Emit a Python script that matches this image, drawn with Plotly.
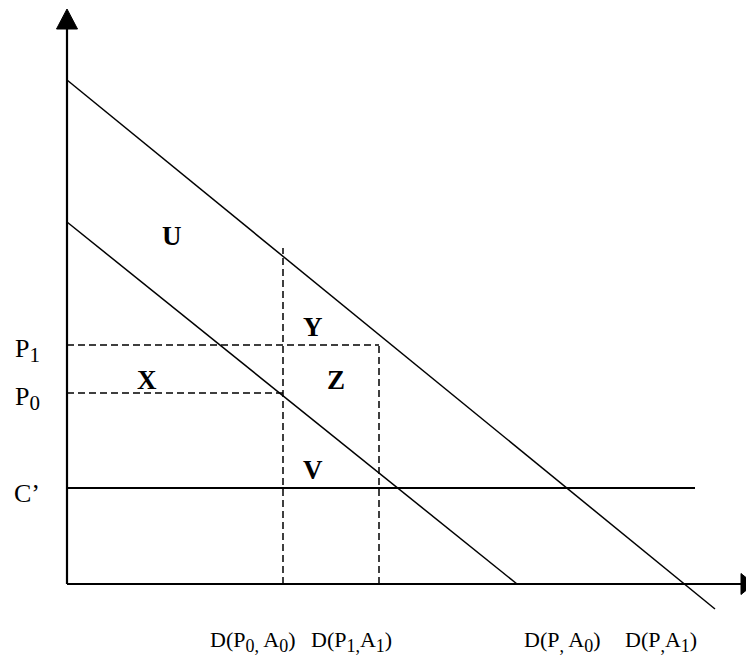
import plotly.graph_objects as go

# ---- data (quantity q to the right, price p upward, origin at the axes' corner) ----
demand_A1_q = [0, 648]
demand_A1_p = [504, -25]
demand_A0_q = [0, 450]
demand_A0_p = [362, 0]
cost_q = [0, 628]
cost_p = [96, 96]
P1 = 239
P0 = 191
q_P0A0 = 216
q_P1A1 = 312
vert_top = 336
axis_q_max = 687
axis_p_max = 575

region_labels = ["U", "Y", "X", "Z", "V"]
region_q = [105, 246, 80, 269, 246]
region_p = [348, 257, 204, 204, 114]

price_labels = ["P{0}".format('<sub><span style="font-size:21px">1</span></sub>'),
                "P{0}".format('<sub><span style="font-size:21px">0</span></sub>'),
                "C’"]
price_values = [P1, P0, 96]

S = '<sub><span style="font-size:18px">{}</span></sub>'
qty_labels = ["D(P" + S.format("0,") + " A" + S.format("0") + ")",
              "D(P" + S.format("1,") + "A" + S.format("1") + ")",
              "D(P" + S.format(",") + " A" + S.format("0") + ")",
              "D(P" + S.format(",") + "A" + S.format("1") + ")"]
qty_q = [185, 284, 495, 594]

FONT = "Liberation Serif, Times New Roman, serif"
BLACK = "black"

fig = go.Figure()

def line(xs, ys, width=1.5, dash="solid"):
    fig.add_trace(go.Scatter(x=xs, y=ys, mode="lines",
                             line=dict(color=BLACK, width=width, dash=dash),
                             hoverinfo="skip", showlegend=False))

# axes
line([0, 0], [0, axis_p_max - 18], width=2.2)
line([0, axis_q_max - 12], [0, 0], width=2.2)
# arrowheads
fig.add_trace(go.Scatter(x=[0, -10.5, 10.5, 0], y=[axis_p_max, axis_p_max - 20, axis_p_max - 20, axis_p_max],
                         fill="toself", fillcolor=BLACK, mode="lines", line=dict(color=BLACK, width=1),
                         hoverinfo="skip", showlegend=False))
fig.add_trace(go.Scatter(x=[axis_q_max, axis_q_max - 13, axis_q_max - 13, axis_q_max], y=[0, 10.5, -10.5, 0],
                         fill="toself", fillcolor=BLACK, mode="lines", line=dict(color=BLACK, width=1),
                         hoverinfo="skip", showlegend=False))

# demand curves and cost line
line(demand_A1_q, demand_A1_p)
line(demand_A0_q, demand_A0_p)
line(cost_q, cost_p, width=1.8)

# dashed guides
dash = "7px,4px"
line([0, q_P1A1], [P1, P1], dash=dash)
line([0, q_P0A0], [P0, P0], dash=dash)
line([q_P0A0, q_P0A0], [0, vert_top], dash=dash)
line([q_P1A1, q_P1A1], [0, P1], dash=dash)

ann = []
for t, q, p in zip(region_labels, region_q, region_p):
    ann.append(dict(x=q, y=p, text=f"<b>{t}</b>", showarrow=False,
                    font=dict(family=FONT, size=27, color=BLACK)))
for t, p in zip(price_labels, price_values):
    ann.append(dict(x=-40, y=p - 5, text=t, showarrow=False,
                    font=dict(family=FONT, size=26, color=BLACK)))
for t, q in zip(qty_labels, qty_q):
    ann.append(dict(x=q, y=-57, text=t, showarrow=False,
                    font=dict(family=FONT, size=22, color=BLACK)))

# The page body has an 8px margin, so the figure is 8px smaller and the ranges start 8px in.
fig.update_layout(
    width=746, height=650,
    margin=dict(l=0, r=0, t=0, b=0),
    paper_bgcolor="white", plot_bgcolor="white",
    xaxis=dict(range=[-59, 687], visible=False, fixedrange=True),
    yaxis=dict(range=[-74, 576], visible=False, fixedrange=True),
    annotations=ann,
    showlegend=False,
)

fig.write_html("out.html")
